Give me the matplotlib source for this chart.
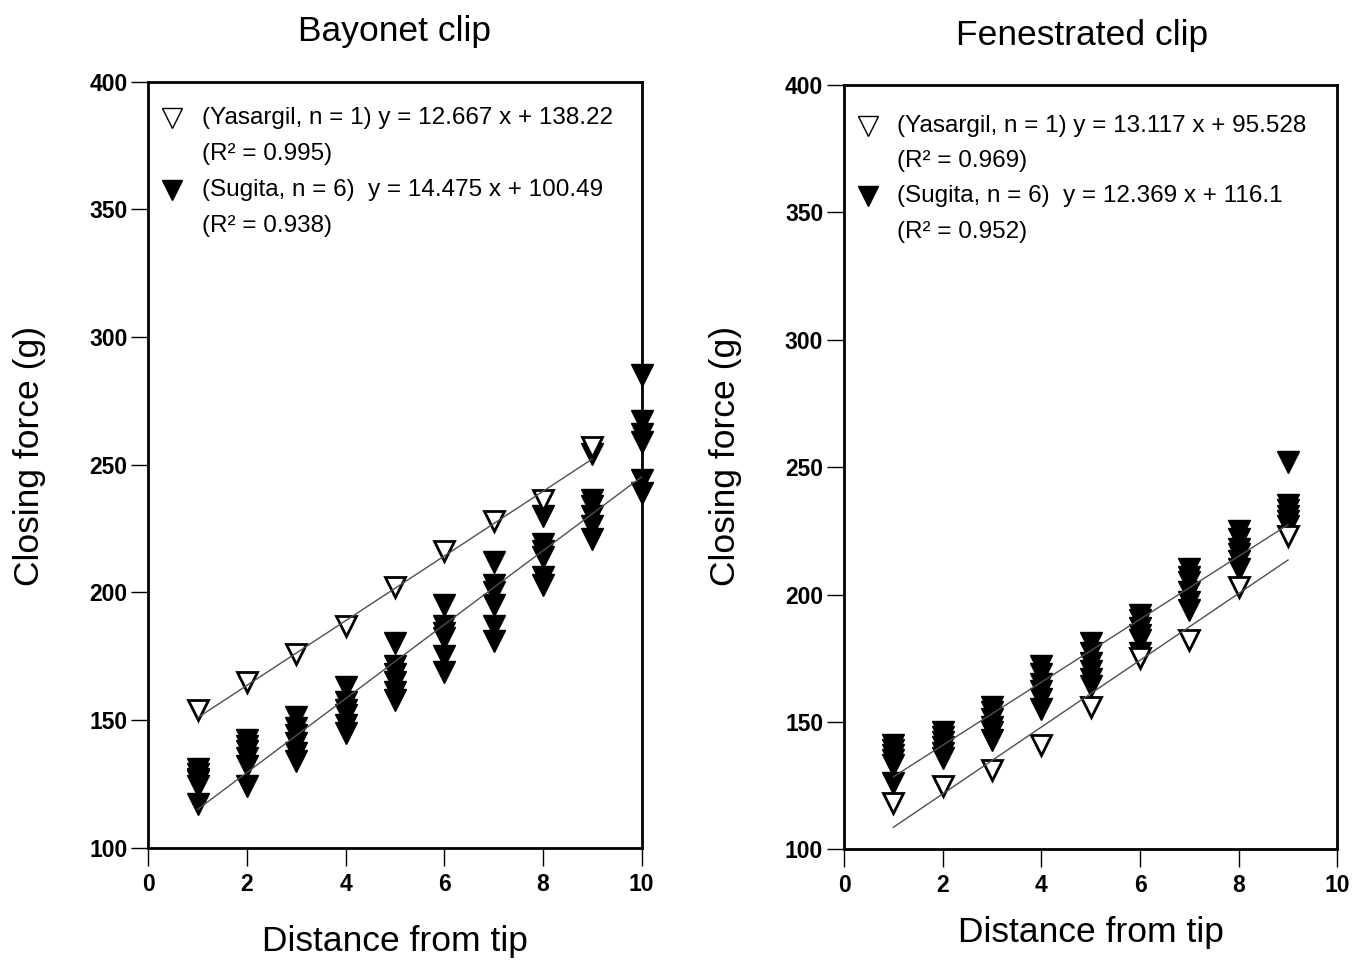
import numpy as np
import matplotlib
matplotlib.use("Agg")
import matplotlib.pyplot as plt

plt.rcParams['font.family'] = ['Liberation Sans', 'DejaVu Sans']

# ---- data ----
dist = [1, 2, 3, 4, 5, 6, 7, 8, 9, 10]

# Bayonet clip
bay_yas = [154, 165, 176, 187, 202, 216, 228, 236, 257]
bay_sug = [
    [131, 129, 127, 126, 124, 117],
    [142, 140, 138, 135, 132, 124],
    [151, 147, 144, 141, 137, 134],
    [163, 157, 154, 152, 148, 145],
    [180, 171, 168, 165, 161, 158],
    [195, 187, 184, 182, 175, 169],
    [212, 203, 200, 195, 187, 181],
    [230, 219, 216, 214, 206, 203],
    [254, 236, 234, 230, 226, 221],
    [285, 267, 262, 259, 244, 239],
]
bay_fit = {"yas": (12.667, 138.22, 0.995), "sug": (14.475, 100.49, 0.938)}

# Fenestrated clip
fen_yas = [118, 125, 131, 141, 156, 175, 182, 203, 223]
fen_sug = [
    [141, 139, 137, 135, 133, 126],
    [146, 144, 142, 140, 138, 136],
    [156, 154, 151, 148, 146, 143],
    [172, 169, 165, 162, 159, 155],
    [181, 177, 173, 170, 167, 164],
    [192, 190, 187, 184, 182, 177],
    [210, 207, 205, 201, 197, 194],
    [225, 222, 218, 216, 213, 210],
    [252, 235, 233, 231, 229, 227],
]
fen_fit = {"yas": (13.117, 95.528, 0.969), "sug": (12.369, 116.1, 0.952)}


def draw(ax, title, yas, sug, fit, legpos, title_x, ylab_y, xlab_y):
    xy = np.array(dist[:len(yas)])
    xs = np.array(dist[:len(sug)])
    for i, vals in enumerate(sug):
        ax.plot([xs[i]] * len(vals), vals, "v", color="black", ms=16.5,
                clip_on=False, zorder=3)
    ax.plot(xy, yas, "v", mfc="white", mec="black", mew=2, ms=14,
            clip_on=False, zorder=4)
    a, b, r = fit["yas"]
    ax.plot([xy[0], xy[-1]], [a * xy[0] + b, a * xy[-1] + b],
            color="#505050", lw=1, zorder=5)
    a2, b2, r2 = fit["sug"]
    ax.plot([xs[0], xs[-1]], [a2 * xs[0] + b2, a2 * xs[-1] + b2],
            color="#505050", lw=1, zorder=5)

    mx, tx, ys = legpos
    fs = 17.5
    ax.plot([mx], [ys[0]], "v", mfc="white", mec="black", mew=1, ms=15,
            transform=ax.transAxes)
    ax.plot([mx], [ys[2]], "v", color="black", ms=15, transform=ax.transAxes)
    ax.text(tx, ys[0], "(Yasargil, n = 1) y = %s x + %s" % (a, b),
            transform=ax.transAxes, fontsize=fs, va="center")
    ax.text(tx, ys[1], "(R² = %.3f)" % r, transform=ax.transAxes,
            fontsize=fs, va="center")
    ax.text(tx, ys[2], "(Sugita, n = 6)  y = %s x + %s" % (a2, b2),
            transform=ax.transAxes, fontsize=fs, va="center")
    ax.text(tx, ys[3], "(R² = %.3f)" % r2, transform=ax.transAxes,
            fontsize=fs, va="center")

    ax.set_xlim(0, 10)
    ax.set_ylim(100, 400)
    ax.set_xticks([0, 2, 4, 6, 8, 10])
    ax.set_yticks([100, 150, 200, 250, 300, 350, 400])
    ax.tick_params(axis="y", direction="out", length=12, width=1,
                   labelsize=16.5, pad=3)
    ax.tick_params(axis="x", direction="out", length=13, width=1,
                   labelsize=16.5, pad=5)
    for lab in ax.get_xticklabels() + ax.get_yticklabels():
        lab.set_fontweight("bold")
    for s in ax.spines.values():
        s.set_linewidth(2)
    ax.set_title(title, fontsize=25.5, pad=29, x=title_x)
    ax.set_xlabel("Distance from tip", fontsize=25.5)
    ax.set_ylabel("Closing force (g)", fontsize=25.5)
    ax.xaxis.set_label_coords(0.5, xlab_y)
    ax.yaxis.set_label_coords(-0.207, ylab_y)


fig = plt.figure(figsize=(13.55, 9.6), dpi=100)
ax1 = fig.add_axes([0.1094, 0.1170, 0.3641, 0.7979])
ax2 = fig.add_axes([0.6229, 0.1153, 0.3641, 0.7961])

draw(ax1, "Bayonet clip", bay_yas, bay_sug, bay_fit,
     (0.049, 0.108, [0.952, 0.905, 0.859, 0.812]), 0.5, 0.511, -0.101)
draw(ax2, "Fenestrated clip", fen_yas, fen_sug, fen_fit,
     (0.049, 0.108, [0.947, 0.901, 0.855, 0.808]), 0.482, 0.515, -0.087)

fig.savefig("out.png", dpi=100)
